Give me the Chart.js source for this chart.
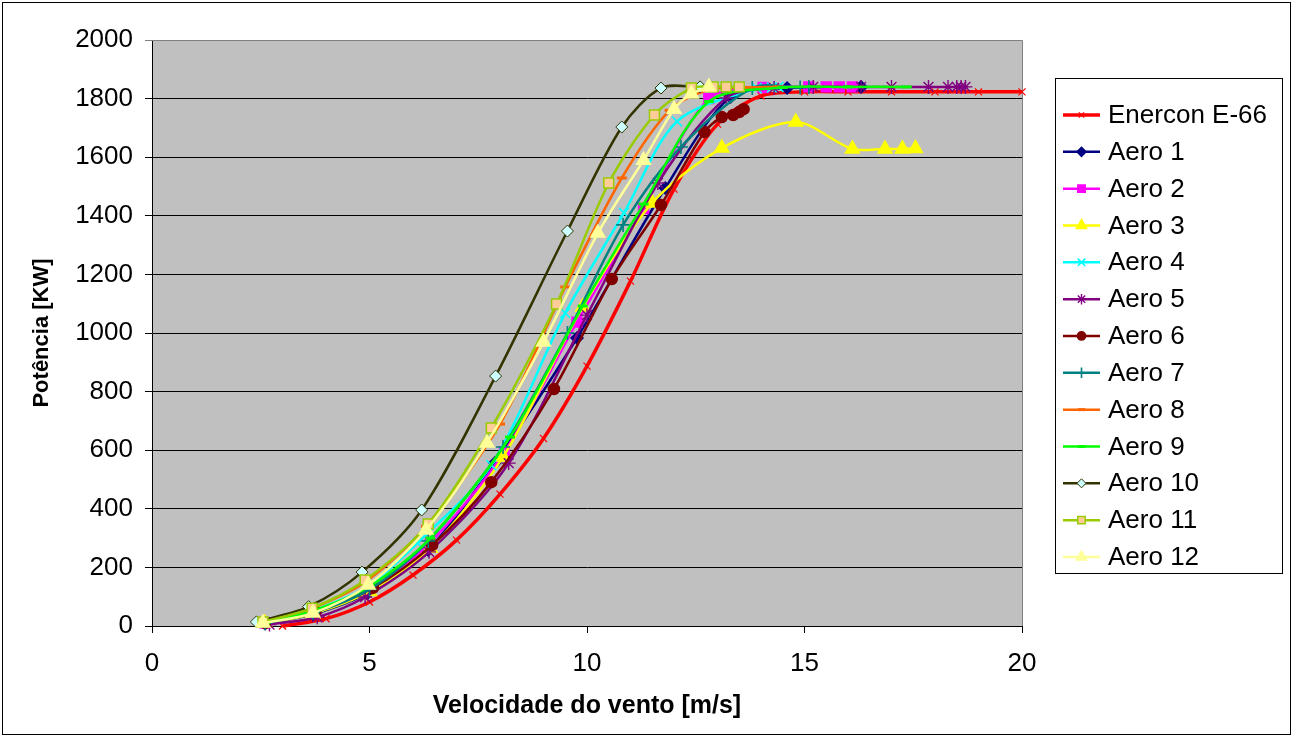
<!DOCTYPE html>
<html lang="pt">
<head>
<meta charset="UTF-8">
<title>Curvas de potência</title>
<style>
  body { margin: 0; padding: 0; background: #fff; }
  #wrap { width: 1293px; height: 737px; }
</style>
</head>
<body>
<div id="wrap"><canvas id="powerChart" width="1293" height="737"></canvas></div>
<script src="https://cdn.jsdelivr.net/npm/chart.js"></script>
<script>
// wind speed [m/s] and power [kW], one pair per curve
const enerconV = [3, 4, 5, 6, 7, 8, 9, 10, 11, 12, 13, 14, 15, 16, 17, 18, 19, 20];
const enerconP = [0, 25, 82, 174, 293, 450, 640, 887, 1177, 1491, 1713, 1809, 1823, 1823, 1823, 1823, 1823, 1823];

const aero1V = [2.6, 3.7, 4.95, 6.35, 7.88, 9.77, 11.8, 13.3, 14.6, 16.3];
const aero1P = [8, 40, 112, 260, 556, 983, 1495, 1806, 1836, 1840];

const aero2V = [2.6, 3.7, 5.0, 6.4, 8.1, 9.77, 11.3, 12.8, 14.05, 15.1, 15.5, 15.8, 16.1];
const aero2P = [10, 45, 125, 285, 594, 1037, 1425, 1800, 1838, 1840, 1840, 1840, 1840];

const aero3V = [2.6, 3.7, 5.0, 6.4, 8.07, 9.9, 11.5, 13.1, 14.8, 16.1, 16.85, 17.25, 17.55];
const aero3P = [9, 42, 118, 265, 577, 1089, 1444, 1631, 1720, 1628, 1628, 1628, 1630];

const aero4V = [2.6, 3.65, 4.95, 6.1, 7.8, 9.5, 10.85, 12.07, 13.9, 14.25, 14.4];
const aero4P = [10, 50, 135, 283, 549, 1068, 1410, 1722, 1836, 1838, 1840];

const aero5V = [2.7, 3.8, 4.9, 6.37, 8.2, 10.0, 11.63, 13.2, 14.3, 15.2, 16.3, 17.0, 17.85, 18.3, 18.5, 18.6, 18.7];
const aero5P = [5, 30, 99, 253, 556, 1061, 1512, 1802, 1836, 1840, 1840, 1840, 1840, 1840, 1840, 1840, 1840];

const aero6V = [2.6, 3.75, 5.08, 6.44, 7.8, 9.24, 10.57, 11.7, 12.7, 13.1, 13.36, 13.5, 13.6];
const aero6P = [10, 48, 130, 276, 491, 809, 1184, 1437, 1686, 1737, 1744, 1754, 1764];

const aero7V = [2.6, 3.7, 5.0, 6.35, 8.07, 9.55, 10.83, 12.16, 13.8, 14.9, 15.1];
const aero7P = [10, 45, 125, 290, 611, 1000, 1369, 1635, 1836, 1838, 1840];

const aero8V = [2.6, 3.6, 4.9, 6.3, 8.0, 9.5, 10.8, 11.9, 12.8, 13.7, 14.4];
const aero8P = [12, 55, 150, 340, 689, 1157, 1529, 1760, 1830, 1838, 1840];

const aero9V = [2.6, 3.7, 5.0, 6.4, 8.23, 9.9, 11.3, 12.8, 14.5, 16.0, 17.35];
const aero9P = [11, 52, 135, 300, 645, 1092, 1440, 1790, 1838, 1840, 1840];

const aero10V = [2.4, 3.6, 4.83, 6.2, 7.9, 9.55, 10.8, 11.7, 12.6];
const aero10P = [14, 66, 184, 396, 853, 1348, 1703, 1836, 1840];

const aero11V = [2.55, 3.68, 4.9, 6.35, 7.8, 9.3, 10.5, 11.55, 12.4, 12.9, 13.2, 13.5];
const aero11P = [14, 61, 157, 348, 676, 1099, 1512, 1744, 1836, 1840, 1840, 1840];

const aero12V = [2.55, 3.7, 4.97, 6.3, 7.7, 9.0, 10.25, 11.3, 12.0, 12.4, 12.8];
const aero12P = [10, 44, 140, 328, 625, 969, 1341, 1590, 1764, 1816, 1840];

const xTicks = [0, 5, 10, 15, 20];
const yTicks = [0, 200, 400, 600, 800, 1000, 1200, 1400, 1600, 1800, 2000];

const FONT = '"Liberation Sans", Arial, sans-serif';
Chart.defaults.font.family = FONT;
Chart.defaults.color = '#000';

function pairs(xs, ys) {
    return xs.map((v, i) => ({ x: v, y: ys[i] }));
}

function series(label, xs, ys, color, style, opts) {
    const o = opts || {};
    return {
        label: label,
        data: pairs(xs, ys),
        showLine: true,
        borderColor: color,
        borderWidth: o.lineWidth || 2.5,
        tension: 0.3,
        pointStyle: style,
        pointRadius: o.radius || 5,
        pointBackgroundColor: o.fill || color,
        pointBorderColor: o.edge || color,
        pointBorderWidth: o.edgeWidth || 1.5,
        clip: 10
    };
}

const datasets = [
    series('Enercon E-66', enerconV, enerconP, '#ff0000', 'crossRot', { lineWidth: 3.5, radius: 5, edgeWidth: 1.2 }),
    series('Aero 1', aero1V, aero1P, '#000080', 'rectRot', { radius: 6 }),
    series('Aero 2', aero2V, aero2P, '#ff00ff', 'rect', { radius: 7 }),
    series('Aero 3', aero3V, aero3P, '#ffff00', 'triangle', { radius: 8 }),
    series('Aero 4', aero4V, aero4P, '#00ffff', 'crossRot', { radius: 7, edgeWidth: 1.6 }),
    series('Aero 5', aero5V, aero5P, '#800080', 'star', { radius: 7, edgeWidth: 1.4 }),
    series('Aero 6', aero6V, aero6P, '#800000', 'circle', { radius: 5.5 }),
    series('Aero 7', aero7V, aero7P, '#008080', 'cross', { radius: 7, edgeWidth: 1.6 }),
    series('Aero 8', aero8V, aero8P, '#ff6600', 'line', { radius: 5, edgeWidth: 3 }),
    series('Aero 9', aero9V, aero9P, '#00ff00', 'line', { radius: 5, edgeWidth: 3 }),
    series('Aero 10', aero10V, aero10P, '#333300', 'rectRot', { radius: 6, fill: '#ccffff', edgeWidth: 1 }),
    series('Aero 11', aero11V, aero11P, '#99cc00', 'rect', { radius: 7, fill: '#ffcc99', edgeWidth: 1.5 }),
    series('Aero 12', aero12V, aero12P, '#ffff99', 'triangle', { radius: 8 })
];
// later series on top, like the spreadsheet
datasets.forEach((d, i) => { d.order = -i; });

const plotFrame = {
    id: 'plotFrame',
    beforeDraw(chart) {
        const { ctx, chartArea: a } = chart;
        ctx.save();
        ctx.fillStyle = '#fff';
        ctx.fillRect(0, 0, chart.width, chart.height);
        ctx.fillStyle = '#c0c0c0';
        ctx.fillRect(a.left, a.top, a.right - a.left, a.bottom - a.top);
        ctx.strokeStyle = '#000';
        ctx.lineWidth = 1;
        ctx.strokeRect(2.5, 2.5, chart.width - 5, chart.height - 5);
        ctx.restore();
    },
    beforeDatasetsDraw(chart) {
        const { ctx, chartArea: a } = chart;
        ctx.save();
        ctx.strokeStyle = '#808080';
        ctx.lineWidth = 1;
        ctx.beginPath();
        ctx.moveTo(a.left, a.top + 0.5);
        ctx.lineTo(a.right + 0.5, a.top + 0.5);
        ctx.lineTo(a.right + 0.5, a.bottom);
        ctx.stroke();
        ctx.restore();
    }
};

const legendBox = {
    id: 'legendBox',
    afterDraw(chart) {
        const ctx = chart.ctx;
        const x0 = 1055, y0 = 78, w = 227, h = 495;
        ctx.save();
        ctx.fillStyle = '#fff';
        ctx.fillRect(x0, y0, w, h);
        ctx.strokeStyle = '#000';
        ctx.lineWidth = 1;
        ctx.strokeRect(x0 + 0.5, y0 + 0.5, w, h);
        ctx.font = '26px ' + FONT;
        ctx.textBaseline = 'middle';
        ctx.textAlign = 'left';
        chart.data.datasets.forEach((ds, i) => {
            const y = 115 + i * 36.83;
            ctx.strokeStyle = ds.borderColor;
            ctx.lineWidth = ds.borderWidth;
            ctx.beginPath();
            ctx.moveTo(1063, y);
            ctx.lineTo(1100, y);
            ctx.stroke();
            ctx.fillStyle = ds.pointBackgroundColor;
            ctx.strokeStyle = ds.pointBorderColor;
            ctx.lineWidth = ds.pointBorderWidth;
            Chart.helpers.drawPoint(ctx, {
                pointStyle: ds.pointStyle,
                radius: ds.pointRadius * 0.75,
                rotation: 0,
                borderWidth: ds.pointBorderWidth
            }, 1081.5, y);
            ctx.fillStyle = '#000';
            ctx.fillText(ds.label, 1108, y + 1);
        });
        ctx.restore();
    }
};

const ctx = document.getElementById('powerChart').getContext('2d');
new Chart(ctx, {
    type: 'scatter',
    data: { datasets: datasets },
    options: {
        responsive: false,
        animation: false,
        layout: { padding: { left: 0, top: 40, right: 271, bottom: 0 } },
        plugins: {
            legend: { display: false },
            tooltip: { enabled: false }
        },
        scales: {
            x: {
                type: 'linear',
                min: 0,
                max: 20,
                afterFit(scale) { scale.height = 111; },
                afterBuildTicks(scale) { scale.ticks = xTicks.map(v => ({ value: v })); },
                ticks: { font: { size: 26 }, padding: 15, maxRotation: 0, callback: v => String(v) },
                grid: { drawOnChartArea: false, drawTicks: true, tickLength: 7, color: '#000' },
                border: { color: '#000', width: 1 },
                title: {
                    display: true,
                    text: 'Velocidade do vento [m/s]',
                    font: { size: 25, weight: 'bold' },
                    padding: { top: 0, bottom: 16 }
                }
            },
            y: {
                type: 'linear',
                min: 0,
                max: 2000,
                afterFit(scale) { scale.width = 152; },
                afterBuildTicks(scale) { scale.ticks = yTicks.map(v => ({ value: v })); },
                ticks: { font: { size: 26 }, padding: 12, callback: v => String(v) },
                grid: {
                    color: c => (c.tick && c.tick.value === 2000) ? '#808080' : '#000',
                    lineWidth: 1,
                    drawTicks: true,
                    tickLength: 7
                },
                border: { color: '#000', width: 1 },
                title: {
                    display: true,
                    text: 'Potência [KW]',
                    font: { size: 22, weight: 'bold' },
                    padding: { top: 29, bottom: 0 }
                }
            }
        }
    },
    plugins: [plotFrame, legendBox]
});
</script>
</body>
</html>
